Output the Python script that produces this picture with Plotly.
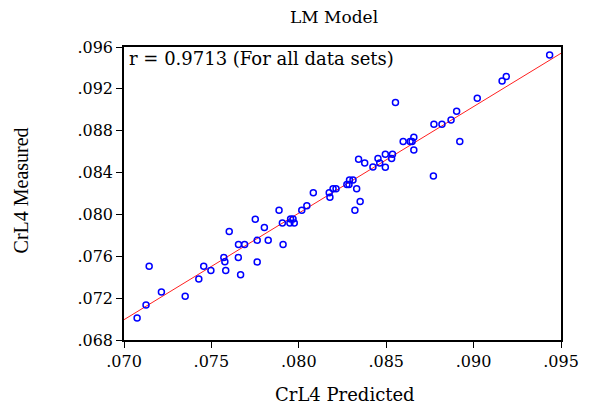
import plotly.graph_objects as go

# Data
crl4_predicted = [
    0.07075, 0.07126, 0.07214, 0.07144, 0.07350, 0.07428, 0.07456, 0.07497, 0.07571, 0.07577,
    0.07582, 0.07602, 0.07655, 0.07690, 0.07654, 0.07667, 0.07762, 0.07762, 0.07803, 0.07825,
    0.07751, 0.07910, 0.07887, 0.07906, 0.07949, 0.07953, 0.07967, 0.07974, 0.08017, 0.08046,
    0.08083, 0.08174, 0.08178, 0.08196, 0.08213, 0.08275, 0.08287, 0.08290, 0.08310, 0.08331,
    0.08351, 0.08321, 0.08342, 0.08377, 0.08424, 0.08453, 0.08463, 0.08495, 0.08495, 0.08536,
    0.08531, 0.08597, 0.08637, 0.08648, 0.08658, 0.08658, 0.08770, 0.08553, 0.08773, 0.08819,
    0.08871, 0.08903, 0.08921, 0.09021, 0.09163, 0.09187, 0.09435,
]
crl4_measured = [
    0.07010, 0.07134, 0.07258, 0.07504, 0.07218, 0.07382, 0.07504, 0.07465, 0.07589, 0.07547,
    0.07465, 0.07836, 0.07712, 0.07712, 0.07589, 0.07423, 0.07753, 0.07546, 0.07876, 0.07753,
    0.07955, 0.07712, 0.08039, 0.07917, 0.07917, 0.07957, 0.07957, 0.07917, 0.08041, 0.08082,
    0.08206, 0.08206, 0.08165, 0.08246, 0.08246, 0.08287, 0.08287, 0.08329, 0.08329, 0.08246,
    0.08124, 0.08041, 0.08528, 0.08492, 0.08453, 0.08534, 0.08492, 0.08574, 0.08451, 0.08574,
    0.08534, 0.08697, 0.08697, 0.08697, 0.08738, 0.08616, 0.08368, 0.09069, 0.08862, 0.08862,
    0.08903, 0.08986, 0.08697, 0.09110, 0.09275, 0.09318, 0.09523,
]

# Fitted line
fit_x = [0.070, 0.095]
fit_y = [0.06994, 0.09540]

x_tickvals = [0.070, 0.075, 0.080, 0.085, 0.090, 0.095]
x_ticktext = [".070", ".075", ".080", ".085", ".090", ".095"]
y_tickvals = [0.068, 0.072, 0.076, 0.080, 0.084, 0.088, 0.092, 0.096]
y_ticktext = [".068", ".072", ".076", ".080", ".084", ".088", ".092", ".096"]

title_text = "LM Model"
x_title = "CrL4 Predicted"
y_title = "CrL4 Measured"
r_text = "r = 0.9713 (For all data sets)"

FONT = "DejaVu Serif"

fig = go.Figure()
fig.add_trace(go.Scatter(
    x=fit_x, y=fit_y, mode="lines",
    line=dict(color="#FF2020", width=1), showlegend=False, hoverinfo="skip",
))
fig.add_trace(go.Scatter(
    x=crl4_predicted, y=crl4_measured, mode="markers",
    marker=dict(symbol="circle-open", size=6, color="#0000FF", line=dict(width=1.5, color="#0000FF")),
    showlegend=False,
))

axis_common = dict(
    showgrid=False, zeroline=False, showline=True, linecolor="black", linewidth=1.5,
    mirror=True, ticks="outside", ticklen=6, tickwidth=1, tickcolor="black",
    tickfont=dict(family=FONT, size=16, color="black"),
)

fig.update_xaxes(range=[0.070, 0.095], tickvals=x_tickvals, ticktext=x_ticktext, **axis_common)
fig.update_yaxes(range=[0.068, 0.096], tickvals=y_tickvals, ticktext=y_ticktext, **axis_common)

fig.update_layout(
    width=591, height=407,
    margin=dict(l=124, r=22, t=47, b=67),
    paper_bgcolor="white", plot_bgcolor="white",
    font=dict(family=FONT, color="black"),
    annotations=[
        dict(text=title_text, xref="paper", yref="paper", x=0.481, y=(340 - 17) / 293,
             showarrow=False, font=dict(family=FONT, size=17), xanchor="center", yanchor="middle"),
        dict(text=x_title, xref="paper", yref="paper", x=0.505, y=(340 - 394) / 293,
             showarrow=False, font=dict(family=FONT, size=18), xanchor="center", yanchor="middle"),
        dict(text=y_title, xref="paper", yref="paper", x=(19 - 124) / 445, y=0.51,
             showarrow=False, textangle=-90, font=dict(family="Liberation Serif", size=20),
             xanchor="center", yanchor="middle"),
        dict(text=r_text, xref="paper", yref="paper", x=(127 - 124) / 445, y=(340 - 58) / 293,
             showarrow=False, font=dict(family=FONT, size=18), xanchor="left", yanchor="middle"),
    ],
)

fig.write_html("out.html")
